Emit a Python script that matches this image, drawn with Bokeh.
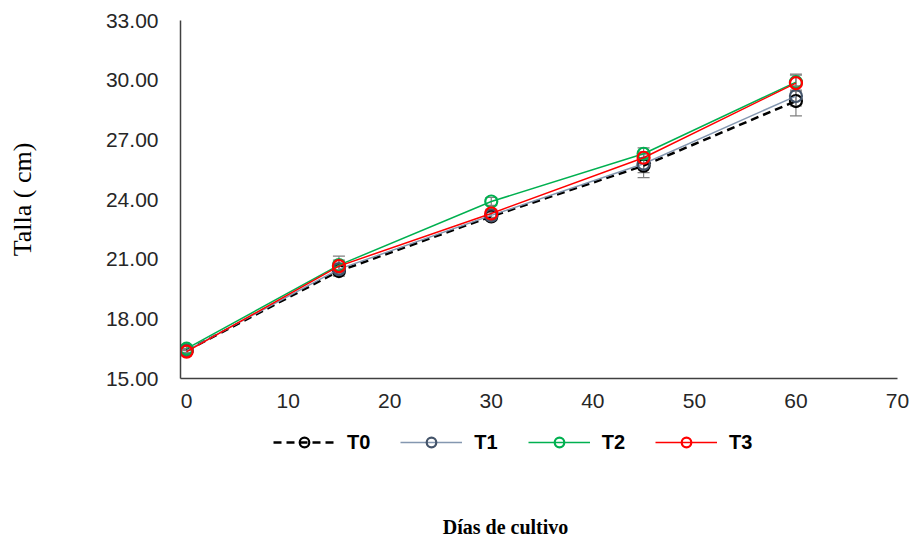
from bokeh.plotting import figure
from bokeh.layouts import column
from bokeh.models import (ColumnDataSource, Whisker, Legend, LegendItem,
                          Range1d, FixedTicker, NumeralTickFormatter, TeeHead)
from bokeh.embed import file_html
from bokeh.resources import INLINE

days = [0, 15, 30, 45, 60]
series_names = ["T0", "T1", "T2", "T3"]
t0 = [16.4, 20.4, 23.15, 25.7, 28.95]
t1 = [16.4, 20.5, 23.2, 25.8, 29.2]
t2 = [16.5, 20.7, 23.9, 26.3, 29.9]
t3 = [16.35, 20.65, 23.3, 26.1, 29.85]
err_t0 = [0.1, 0.25, 0.2, 0.6, 0.75]
err_t1 = [0.1, 0.2, 0.2, 0.45, 0.5]
err_t2 = [0.1, 0.45, 0.2, 0.3, 0.4]
err_t3 = [0.1, 0.3, 0.2, 0.3, 0.4]
y_ticks = [15, 18, 21, 24, 27, 30, 33]
x_ticks = [0, 10, 20, 30, 40, 50, 60, 70]

# ---------- main chart ----------
p = figure(frame_width=717, frame_height=358, output_backend="svg", toolbar_location=None,
           x_range=Range1d(-0.6, 70), y_range=Range1d(15, 33))
p.min_border_left = 180
p.min_border_right = 17
p.min_border_top = 20
p.min_border_bottom = 34
p.outline_line_color = None
p.xgrid.grid_line_color = None
p.ygrid.grid_line_color = None
p.background_fill_color = "white"
p.border_fill_color = "white"

p.xaxis.ticker = FixedTicker(ticks=x_ticks)
p.yaxis.ticker = FixedTicker(ticks=y_ticks)
p.yaxis.formatter = NumeralTickFormatter(format="0.00")
for ax in (p.xaxis, p.yaxis):
    ax.major_tick_line_color = None
    ax.minor_tick_line_color = None
    ax.axis_line_color = "#404040"
    ax.axis_line_width = 1.5
    ax.major_label_text_font = "Liberation Sans"
    ax.major_label_text_font_size = "21px"
    ax.major_label_text_color = "#262626"
p.yaxis.major_label_standoff = 16
p.xaxis.major_label_standoff = 9

p.yaxis.axis_label = "Talla ( cm)"
p.yaxis.axis_label_text_font = "Liberation Serif"
p.yaxis.axis_label_text_font_style = "normal"
p.yaxis.axis_label_text_font_size = "26px"
p.yaxis.axis_label_text_color = "#000000"
p.yaxis.axis_label_standoff = 66

specs = [
    (t0, err_t0, "#000000", "#000000", "8 5", 2.5),
    (t1, err_t1, "#8497b0", "#44546a", "solid", 1.5),
    (t2, err_t2, "#00b050", "#00b050", "solid", 1.5),
    (t3, err_t3, "#ff0000", "#ff0000", "solid", 1.5),
]

# ---------- legend / x-label strip ----------
p2 = figure(frame_width=650, frame_height=46, output_backend="svg", toolbar_location=None,
            x_range=Range1d(100, 101), y_range=Range1d(100, 101))
p2.min_border_left = 180
p2.min_border_right = 84
p2.min_border_top = 0
p2.min_border_bottom = 20
p2.outline_line_color = None
p2.xgrid.grid_line_color = None
p2.ygrid.grid_line_color = None
p2.yaxis.visible = False
p2.xaxis.ticker = FixedTicker(ticks=[])
p2.xaxis.axis_line_color = None
p2.xaxis.major_tick_line_color = None
p2.xaxis.minor_tick_line_color = None
p2.xaxis.major_label_text_font_size = "0px"
p2.xaxis.axis_label = "Días de cultivo"
p2.xaxis.axis_label_text_font = "Liberation Serif"
p2.xaxis.axis_label_text_font_style = "bold"
p2.xaxis.axis_label_text_font_size = "20px"
p2.xaxis.axis_label_text_color = "#000000"
p2.xaxis.axis_label_standoff = 57

items = []
for name, (vals, errs, lc, mc, dash, lw) in zip(series_names, specs):
    src = ColumnDataSource(dict(
        x=days, y=vals,
        upper=[v + e for v, e in zip(vals, errs)],
        lower=[v - e for v, e in zip(vals, errs)],
    ))
    w = Whisker(source=src, base="x", upper="upper", lower="lower",
                line_color="#7f7f7f", line_width=1.2,
                upper_head=TeeHead(size=12, line_color="#7f7f7f", line_width=1.2),
                lower_head=TeeHead(size=12, line_color="#7f7f7f", line_width=1.2))
    p.add_layout(w)
    p.line("x", "y", source=src, line_color=lc, line_width=lw, line_dash=dash)
    p.scatter("x", "y", source=src, marker="circle", size=12,
              fill_color=None, line_color=mc, line_width=2.2)
    # legend proxies (same series, outside the strip's visible range)
    l1 = p2.line("x", "y", source=src, line_color=lc, line_width=lw, line_dash=dash)
    l2 = p2.scatter("x", "y", source=src, marker="circle", size=12,
                    fill_color=None, line_color=mc, line_width=2.2)
    items.append(LegendItem(label=name, renderers=[l1, l2]))

legend = Legend(items=items, orientation="horizontal", location=(93, 4),
                border_line_color=None, background_fill_alpha=0,
                label_text_font="Liberation Sans", label_text_font_style="bold",
                label_text_font_size="20px", label_text_color="#000000",
                glyph_width=62, glyph_height=24, label_standoff=12, spacing=30,
                padding=10, margin=0)
p2.add_layout(legend)

layout = column(p, p2, spacing=0)
open("out.html", "w").write(file_html(layout, INLINE))
